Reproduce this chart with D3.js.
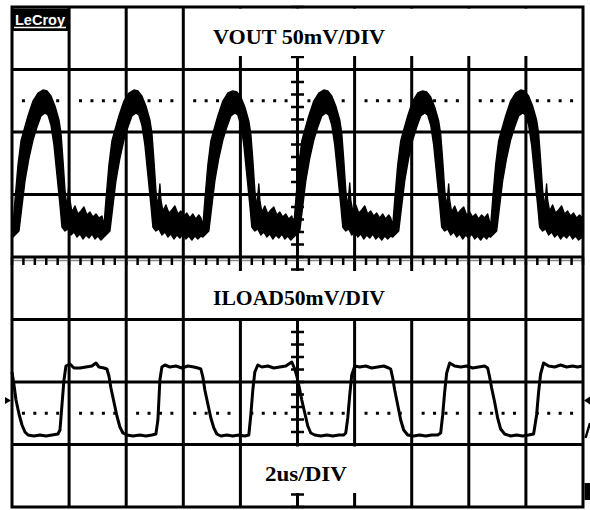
<!DOCTYPE html>
<html><head><meta charset="utf-8">
<script src="https://cdn.jsdelivr.net/npm/d3@7"></script>
<style>html,body{margin:0;padding:0;background:#fff}svg{display:block}</style>
</head><body><svg id="c" width="590" height="510"></svg>
<script>
// ---- data: time in microseconds (0..20 us, 2 us/div), level in mV (50 mV/div, 0 = centre line)
// VOUT persistence band: outer (upper) envelope and inner (lower) envelope
const voutUpper = [[0,23.2],[0.035,24.8],[0.105,45.6],[0.21,73.6],[0.315,92.8],[0.42,101.6],[0.56,112.8],[0.735,124.8],[0.91,131.2],[1.085,133.6],[1.225,132.8],[1.365,128.8],[1.505,120.8],[1.645,109.6],[1.715,99.2],[1.785,77.6],[1.855,53.6],[1.925,39.2],
[1.995,59.2],[2.03,45.6],[2.1,36],[2.205,40.8],[2.31,34.4],[2.415,36.8],[2.52,40],[2.625,33.6],[2.73,36],[2.835,32],[2.94,34.4],[3.045,31.2],[3.15,32.8],
[3.22,24.8],[3.29,45.6],[3.395,73.6],[3.5,92.8],[3.605,101.6],[3.745,112.8],[3.92,124.8],[4.095,131.2],[4.27,133.6],[4.41,132.8],[4.55,128.8],[4.69,120.8],[4.83,109.6],[4.9,99.2],[4.97,77.6],[5.04,53.6],[5.11,39.2],
[5.18,58.4],[5.215,45.6],[5.285,36.8],[5.39,41.6],[5.495,35.2],[5.6,37.6],[5.705,40.8],[5.81,34.4],[5.915,36.8],[6.02,32.8],[6.125,35.2],[6.23,31.2],[6.335,34.4],[6.44,30.4],[6.545,33.6],[6.615,31.2],
[6.685,24.8],[6.755,45.6],[6.86,73.6],[6.965,92.8],[7.07,101.6],[7.21,112.8],[7.385,124.8],[7.56,131.2],[7.735,132.8],[7.875,132],[8.015,128],[8.155,120],[8.295,108.8],[8.365,98.4],[8.435,77.6],[8.505,53.6],[8.575,39.2],
[8.645,58.4],[8.68,45.6],[8.75,36],[8.855,40.8],[8.96,34.4],[9.065,37.6],[9.17,40],[9.275,33.6],[9.38,36],[9.485,32],[9.59,34.4],[9.695,30.4],[9.8,32.8],
[9.87,24.8],[9.94,45.6],[10.045,73.6],[10.15,92.8],[10.255,101.6],[10.395,112.8],[10.57,124.8],[10.745,131.2],[10.92,133.6],[11.06,132.8],[11.2,128.8],[11.34,120.8],[11.48,109.6],[11.55,99.2],[11.62,77.6],[11.69,53.6],[11.76,39.2],
[11.83,59.2],[11.865,45.6],[11.935,36.8],[12.04,41.6],[12.145,35.2],[12.25,37.6],[12.355,40.8],[12.46,34.4],[12.565,36.8],[12.67,32.8],[12.775,35.2],[12.88,31.2],[12.985,34.4],[13.09,30.4],[13.195,33.6],[13.265,31.2],
[13.335,24.8],[13.405,45.6],[13.51,73.6],[13.615,92.8],[13.72,101.6],[13.86,112.8],[14.035,124.8],[14.21,131.2],[14.385,132.8],[14.525,132],[14.665,128],[14.805,120],[14.945,108.8],[15.015,98.4],[15.085,77.6],[15.155,53.6],[15.225,39.2],
[15.295,58.4],[15.33,45.6],[15.4,36],[15.505,40.8],[15.61,34.4],[15.715,37.6],[15.82,40],[15.925,33.6],[16.03,36],[16.135,32],[16.24,34.4],[16.345,30.4],[16.45,33.6],[16.555,31.2],[16.66,34.4],
[16.765,24.8],[16.835,45.6],[16.94,73.6],[17.045,92.8],[17.15,101.6],[17.29,112.8],[17.465,124.8],[17.64,131.2],[17.815,133.6],[17.955,132.8],[18.095,128.8],[18.235,120.8],[18.375,109.6],[18.445,99.2],[18.515,77.6],[18.585,53.6],[18.655,39.2],
[18.725,58.4],[18.76,45.6],[18.83,36.8],[18.935,41.6],[19.04,35.2],[19.145,37.6],[19.25,40.8],[19.355,34.4],[19.46,36.8],[19.565,32.8],[19.67,35.2],[19.775,31.2],[19.88,33.6],[19.985,31.2]];

const voutLower = [[0,15.2],[0.035,16],[0.245,20.8],[0.35,40.8],[0.455,60.8],[0.595,79.2],[0.735,93.6],[0.875,104],[1.015,112.8],[1.155,115.2],[1.26,113.6],[1.365,105.6],[1.47,89.6],[1.575,65.6],[1.68,41.6],[1.75,24],[1.855,20.8],
[1.96,22.4],[2.065,17.6],[2.17,20],[2.275,16],[2.38,18.4],[2.485,14.4],[2.59,17.6],[2.695,15.2],[2.8,18.4],[2.905,14.4],[3.01,16.8],[3.115,13.6],
[3.22,16],[3.43,20.8],[3.535,40.8],[3.64,60.8],[3.78,79.2],[3.92,93.6],[4.06,104],[4.2,112.8],[4.34,115.2],[4.445,113.6],[4.55,105.6],[4.655,89.6],[4.76,65.6],[4.865,41.6],[4.935,24],[5.04,20.8],
[5.145,22.4],[5.25,17.6],[5.355,20],[5.46,16],[5.565,18.4],[5.67,14.4],[5.775,17.6],[5.88,15.2],[5.985,18.4],[6.09,14.4],[6.195,16.8],[6.3,13.6],[6.405,16.8],[6.51,14.4],[6.615,16.8],
[6.685,16],[6.895,20.8],[7,40.8],[7.105,60.8],[7.245,79.2],[7.385,93.6],[7.525,104],[7.665,112.8],[7.805,115.2],[7.91,113.6],[8.015,105.6],[8.12,89.6],[8.225,65.6],[8.33,41.6],[8.4,24],[8.505,20.8],
[8.61,22.4],[8.715,17.6],[8.82,20],[8.925,16],[9.03,18.4],[9.135,14.4],[9.24,17.6],[9.345,15.2],[9.45,18.4],[9.555,14.4],[9.66,16.8],[9.765,13.6],
[9.87,16],[10.08,20.8],[10.185,40.8],[10.29,60.8],[10.43,79.2],[10.57,93.6],[10.71,104],[10.85,112.8],[10.99,115.2],[11.095,113.6],[11.2,105.6],[11.305,89.6],[11.41,65.6],[11.515,41.6],[11.585,24],[11.69,20.8],
[11.795,22.4],[11.9,17.6],[12.005,20],[12.11,16],[12.215,18.4],[12.32,14.4],[12.425,17.6],[12.53,15.2],[12.635,18.4],[12.74,14.4],[12.845,16.8],[12.95,13.6],[13.055,16.8],[13.16,14.4],[13.265,16.8],
[13.335,16],[13.545,20.8],[13.65,40.8],[13.755,60.8],[13.895,79.2],[14.035,93.6],[14.175,104],[14.315,112.8],[14.455,115.2],[14.56,113.6],[14.665,105.6],[14.77,89.6],[14.875,65.6],[14.98,41.6],[15.05,24],[15.155,20.8],
[15.26,22.4],[15.365,17.6],[15.47,20],[15.575,16],[15.68,18.4],[15.785,14.4],[15.89,17.6],[15.995,15.2],[16.1,18.4],[16.205,14.4],[16.31,16.8],[16.415,13.6],[16.52,16.8],[16.625,14.4],[16.695,16.8],
[16.765,16],[16.975,20.8],[17.08,40.8],[17.185,60.8],[17.325,79.2],[17.465,93.6],[17.605,104],[17.745,112.8],[17.885,115.2],[17.99,113.6],[18.095,105.6],[18.2,89.6],[18.305,65.6],[18.41,41.6],[18.48,24],[18.585,20.8],
[18.69,22.4],[18.795,17.6],[18.9,20],[19.005,16],[19.11,18.4],[19.215,14.4],[19.32,17.6],[19.425,15.2],[19.53,18.4],[19.635,14.4],[19.74,16.8],[19.845,13.6],[19.985,16]];

// ILOAD trace
const iload = [[0,-92],[0.07,-102.4],[0.14,-114.4],[0.245,-125.6],[0.35,-134.4],[0.455,-140],[0.56,-142.4],[0.77,-143.2],[0.98,-142.4],[1.19,-143.2],[1.4,-142.4],[1.61,-141.6],[1.68,-138.4],[1.75,-118.4],[1.82,-98.4],[1.89,-87.2],[2.03,-85.6],[2.17,-88.8],[2.38,-88.8],[2.59,-88],[2.8,-87.2],[2.94,-84.8],[3.045,-88],[3.22,-88.8],[3.325,-89.6],
[3.395,-95.2],[3.465,-104.8],[3.57,-116],[3.675,-127.2],[3.78,-136],[3.885,-140.8],[4.025,-142.4],[4.235,-143.2],[4.48,-142.4],[4.69,-143.2],[4.9,-142.4],[5.04,-141.6],[5.11,-130.4],[5.145,-114.4],[5.18,-98.4],[5.25,-88],[5.355,-86.4],[5.53,-88],[5.74,-87.2],[5.95,-88.8],[6.16,-87.2],[6.37,-88],[6.51,-88.8],[6.615,-89.6],
[6.685,-96],[6.755,-106.4],[6.86,-117.6],[6.965,-128.8],[7.07,-136.8],[7.175,-141.6],[7.315,-143.2],[7.525,-142.4],[7.735,-143.2],[7.945,-142.4],[8.155,-143.2],[8.295,-142.4],[8.365,-126.4],[8.435,-106.4],[8.505,-92],[8.61,-86.4],[8.75,-88],[8.96,-87.2],[9.17,-88.8],[9.38,-88],[9.59,-87.2],[9.8,-84],[9.905,-89.6],
[9.975,-95.2],[10.045,-102.4],[10.15,-114.4],[10.255,-124.8],[10.36,-135.2],[10.465,-140.8],[10.605,-142.4],[10.815,-143.2],[11.025,-142.4],[11.235,-143.2],[11.445,-142.4],[11.62,-142.4],[11.69,-140.8],[11.76,-128.8],[11.83,-110.4],[11.9,-94.4],[12.005,-87.2],[12.18,-88],[12.39,-87.2],[12.6,-88.8],[12.81,-88],[13.02,-87.2],[13.195,-88.8],[13.265,-89.6],
[13.335,-96.8],[13.405,-106.4],[13.51,-118.4],[13.615,-130.4],[13.72,-138.4],[13.86,-142.4],[14.07,-143.2],[14.28,-142.4],[14.49,-143.2],[14.7,-142.4],[14.91,-142.4],[15.015,-140.8],[15.085,-126.4],[15.155,-108],[15.225,-92.8],[15.33,-84.8],[15.505,-87.2],[15.715,-88],[15.925,-87.2],[16.135,-88.8],[16.345,-88],[16.555,-87.2],[16.66,-88.8],
[16.73,-96],[16.8,-104.8],[16.905,-116],[17.01,-128.8],[17.115,-137.6],[17.255,-141.6],[17.465,-143.2],[17.675,-142.4],[17.885,-143.2],[18.095,-142.4],[18.27,-141.6],[18.375,-126.4],[18.445,-108],[18.515,-93.6],[18.62,-84.8],[18.795,-87.2],[19.005,-88],[19.215,-86.4],[19.425,-88],[19.635,-87.2],[19.81,-88],[19.985,-87.2]];

const timeGridUs = [0, 2, 4, 6, 8, 10, 12, 14, 16, 18, 20];
const levelGridMv = [-200, -150, -100, -50, 0, 50, 100, 150, 200];
const dottedLevelsMv = [125, -125];
const channelLabels = ["VOUT 50mV/DIV", "ILOAD50mV/DIV"];
const timebaseLabel = "2us/DIV";
const logoText = "LeCroy";

// ---- drawing
const W = 590, H = 510;
const svg = d3.select("#c");
const x = d3.scaleLinear().domain([0, 20]).range([12, 583]);
const y = d3.scaleLinear().domain([-200, 200]).range([507, 7]);

svg.append("rect").attr("width", W).attr("height", H).attr("fill", "#fff");

const grid = svg.append("g").attr("stroke", "#000").attr("stroke-width", 3);
grid.selectAll(".v").data(timeGridUs.slice(1, -1)).join("line")
  .attr("x1", d => x(d)).attr("x2", d => x(d)).attr("y1", y(200)).attr("y2", y(-200));
grid.selectAll(".h").data(levelGridMv.slice(1, -1)).join("line")
  .attr("y1", d => y(d)).attr("y2", d => y(d)).attr("x1", x(0)).attr("x2", x(20));

// centre horizontal ruler
const minorT = d3.range(0, 20.0001, 0.4);
svg.append("line").attr("x1", x(0)).attr("x2", x(20)).attr("y1", y(0) + 3.5).attr("y2", y(0) + 3.5)
  .attr("stroke", "#888").attr("stroke-width", 1.5);
svg.append("g").attr("stroke", "#000").attr("stroke-width", 2.5)
  .selectAll("line").data(minorT).join("line")
  .attr("x1", d => x(d)).attr("x2", d => x(d)).attr("y1", y(0)).attr("y2", y(0) + 8);

// centre vertical ruler
const minorV = d3.range(-200, 200.0001, 10);
svg.append("g").attr("stroke", "#000").attr("stroke-width", 2.5)
  .selectAll("line").data(minorV).join("line")
  .attr("x1", x(10) - 6.5).attr("x2", x(10) + 6.5).attr("y1", d => y(d)).attr("y2", d => y(d));

// dotted reference levels
const dotT = minorT.filter(t => Math.abs(t / 2 - Math.round(t / 2)) > 0.01);
dottedLevelsMv.forEach(lv => {
  svg.append("g").selectAll("rect").data(dotT).join("rect")
    .attr("x", d => x(d) - 1.5).attr("y", y(lv) - 1.5).attr("width", 3).attr("height", 3).attr("fill", "#000");
});

// label boxes (white, hide graticule)
const boxes = [[186, 8.5, 395.5, 47.5], [186, 271, 262, 47], [243, 446.5, 165, 46.5]];
svg.append("g").selectAll("rect").data(boxes).join("rect")
  .attr("x", d => d[0]).attr("y", d => d[1]).attr("width", d => d[2]).attr("height", d => d[3]).attr("fill", "#fff");

// traces
const line = d3.line().x(d => x(d[0])).y(d => y(d[1]));
const band = voutUpper.concat(voutLower.slice().reverse());
svg.append("path").attr("d", line(band) + "Z")
  .attr("fill", "#000").attr("stroke", "#000").attr("stroke-width", 1.4).attr("stroke-linejoin", "round");
svg.append("path").attr("d", line(iload))
  .attr("fill", "none").attr("stroke", "#000").attr("stroke-width", 3).attr("stroke-linejoin", "round");

// border
svg.append("rect").attr("x", x(0)).attr("y", y(200)).attr("width", x(20) - x(0)).attr("height", y(-200) - y(200))
  .attr("fill", "none").attr("stroke", "#000").attr("stroke-width", 3);

// labels
const serif = "'Liberation Serif','DejaVu Serif',serif";
svg.append("text").attr("x", 299).attr("y", 44).attr("text-anchor", "middle")
  .attr("font-family", serif).attr("font-weight", "bold").attr("font-size", 21)
  .attr("textLength", 172).attr("lengthAdjust", "spacingAndGlyphs").text(channelLabels[0]);
svg.append("text").attr("x", 299).attr("y", 305).attr("text-anchor", "middle")
  .attr("font-family", serif).attr("font-weight", "bold").attr("font-size", 21)
  .attr("textLength", 172).attr("lengthAdjust", "spacingAndGlyphs").text(channelLabels[1]);
svg.append("text").attr("x", 306).attr("y", 481).attr("text-anchor", "middle")
  .attr("font-family", serif).attr("font-weight", "bold").attr("font-size", 21)
  .attr("textLength", 82).attr("lengthAdjust", "spacingAndGlyphs").text(timebaseLabel);

// logo
svg.append("rect").attr("x", 12).attr("y", 8.5).attr("width", 56).attr("height", 22.5).attr("fill", "#000");
svg.append("text").attr("x", 15).attr("y", 25).attr("fill", "#fff")
  .attr("font-family", "'Liberation Sans','DejaVu Sans',sans-serif").attr("font-weight", "bold").attr("font-size", 15)
  .attr("textLength", 50).attr("lengthAdjust", "spacingAndGlyphs").text(logoText);
svg.append("line").attr("x1", 14).attr("x2", 66).attr("y1", 27.5).attr("y2", 27.5).attr("stroke", "#fff").attr("stroke-width", 1.5);

// channel markers at the edges
svg.append("path").attr("d", "M5,397 L11,400.5 L5,404 Z").attr("fill", "#000");
svg.append("path").attr("d", "M590,396.5 L584,400.5 L590,404.5 Z").attr("fill", "#000");
svg.append("line").attr("x1", 590).attr("y1", 423).attr("x2", 585.5).attr("y2", 438).attr("stroke", "#000").attr("stroke-width", 2.5);
svg.append("rect").attr("x", 584.5).attr("y", 483).attr("width", 5.5).attr("height", 17).attr("fill", "#000");
</script></body></html>
